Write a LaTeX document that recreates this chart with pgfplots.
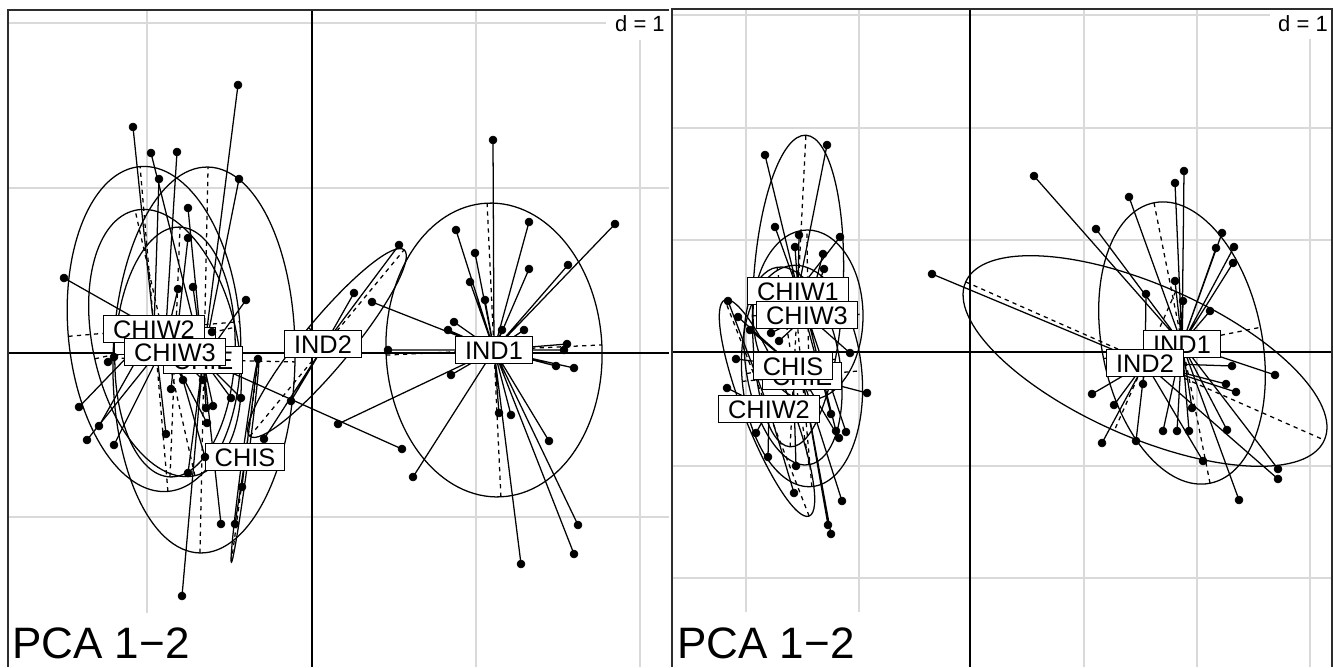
\documentclass[border=0pt]{standalone}
\usepackage{fontspec}
\setmainfont{Liberation Sans}
\usepackage{pgfplots}
\pgfplotsset{compat=1.18}
\definecolor{gridgray}{RGB}{217,217,217}
\definecolor{framegray}{RGB}{45,45,45}
\tikzset{
  lab/.style={draw=black, fill=white, line width=0.9pt, font=\fontsize{19}{19}\selectfont,
    inner xsep=7.2pt, inner ysep=3.6pt, text height=13.6pt, text depth=0pt},
  el/.style={black, line width=0.95pt},
  eld/.style={black, line width=0.95pt, dash pattern=on 3.2pt off 3.2pt},
}
\pgfplotsset{
  gl/.style={gridgray, line width=0.8pt, no marks},
  ax/.style={black, line width=0.85pt, no marks},
  fr/.style={framegray, line width=1.2pt, no marks},
  st/.style={black, line width=0.95pt, no marks, line join=round},
  pt/.style={only marks, mark=*, mark size=3pt, black, mark options={fill=black}},
}
% #1 cx, #2 cy, #3 a, #4 b, #5 angle, #6 cx-a, #7 cx+a, #8 cy-b, #9 cy+b
\newcommand{\grpellipse}[9]{%
  \draw[el, rotate around={#5:(axis cs:#1,#2)}] (axis cs:#1,#2) ellipse [x radius=#3, y radius=#4];
  \draw[eld, rotate around={#5:(axis cs:#1,#2)}] (axis cs:#6,#2) -- (axis cs:#7,#2) (axis cs:#1,#8) -- (axis cs:#1,#9);
}
\begin{document}
\begin{tikzpicture}
\begin{axis}[
  name=main,
  scale only axis, width=999.75pt, height=500.25pt,
  xmin=0, xmax=1333, ymin=0, ymax=667, y dir=reverse,
  hide axis, clip=false,
]
\path (axis cs:0,0) rectangle (axis cs:1333,667);
% ---------------- grids, left panel
\addplot[gl] coordinates {(147,10) (147,667)};
\addplot[gl] coordinates {(476,10) (476,667)};
\addplot[gl] coordinates {(640,10) (640,667)};
\addplot[gl] coordinates {(8,23) (669,23)};
\addplot[gl] coordinates {(8,188) (669,188)};
\addplot[gl] coordinates {(8,517) (669,517)};
% ---------------- grids, right panel
\addplot[gl] coordinates {(746,9) (746,667)};
\addplot[gl] coordinates {(859,9) (859,667)};
\addplot[gl] coordinates {(1084,9) (1084,667)};
\addplot[gl] coordinates {(1197,9) (1197,667)};
\addplot[gl] coordinates {(1310,9) (1310,667)};
\addplot[gl] coordinates {(672,15) (1332,15)};
\addplot[gl] coordinates {(672,128) (1332,128)};
\addplot[gl] coordinates {(672,240) (1332,240)};
\addplot[gl] coordinates {(672,466) (1332,466)};
\addplot[gl] coordinates {(672,578) (1332,578)};
% ---------------- axes through origin
\addplot[ax] coordinates {(312,10) (312,667)};
\addplot[ax] coordinates {(8,353) (669,353)};
\addplot[ax] coordinates {(970,9) (970,667)};
\addplot[ax] coordinates {(672,352) (1332,352)};
% ---------------- frames
\addplot[fr] coordinates {(8,667) (8,10) (669,10)};
\addplot[fr] coordinates {(672,667) (672,9) (1332,9) (1332,667)};

% ================= LEFT PANEL =================
\grpellipse{204}{360}{193}{91}{88.8}{11}{397}{269}{451}
\grpellipse{154}{329}{163}{86}{94.9}{-9}{317}{243}{415}
\grpellipse{165}{343}{136}{72}{102.7}{29}{301}{271}{415}
\grpellipse{175}{352}{125}{60}{87.7}{50}{300}{292}{412}
\grpellipse{245}{460}{103}{3}{82.4}{142}{348}{457}{463}
\grpellipse{327}{343}{121}{24}{50.4}{206}{448}{319}{367}
\grpellipse{494}{350}{147}{108}{92.7}{347}{641}{242}{458}

% CHIE
\addplot[st] coordinates {(203,360)(238,85)(203,360)(151,153)(203,360)(239,179)(203,360)(188,208)(203,360)(246,300)(203,360)(193,287)(203,360)(402,449)(203,360)(241,398)(203,360)(206,408)(203,360)(213,406)(203,360)(231,398)(203,360)(188,473)(203,360)(221,524)(203,360)(182,596)};
\addplot[pt] coordinates {(238,85)(151,153)(239,179)(188,208)(246,300)(193,287)(402,449)(241,398)(206,408)(213,406)(231,398)(188,473)(221,524)(182,596)};
% CHIW2
\addplot[st] coordinates {(154,329)(133,127)(154,329)(159,179)(154,329)(64,278)(154,329)(79,407)(154,329)(99,426)(154,329)(108,362)(154,329)(114,357)(154,329)(166,434)};
\addplot[pt] coordinates {(133,127)(159,179)(64,278)(79,407)(99,426)(108,362)(114,357)(166,434)};
% CHIW1
\addplot[st] coordinates {(165,343)(177,152)(165,343)(178,289)(165,343)(87,440)(165,343)(114,445)(165,343)(183,380)(165,343)(207,423)};
\addplot[pt] coordinates {(177,152)(178,289)(87,440)(114,445)(183,380)(207,423)};
% CHIW3
\addplot[st] coordinates {(175,352)(188,238)(175,352)(171,389)(175,352)(203,380)(175,352)(205,457)(175,352)(212,332)};
\addplot[pt] coordinates {(188,238)(171,389)(203,380)(205,457)(212,332)};
% CHIS
\addplot[st] coordinates {(245,460)(258,359)(245,460)(242,487)(245,460)(235,524)};
\addplot[pt] coordinates {(258,359)(242,487)(235,524)};
% IND2
\addplot[st] coordinates {(325,344)(399,245)(325,344)(354,293)(325,344)(291,401)(325,344)(264,439)};
\addplot[pt] coordinates {(399,245)(354,293)(291,401)(264,439)};
% IND1
\addplot[st] coordinates {(494,350)(493,140)(494,350)(456,230)(494,350)(475,253)(494,350)(470,282)(494,350)(485,300)(494,350)(529,222)(494,350)(529,269)(494,350)(615,224)(494,350)(568,265)(494,350)(372,302)(494,350)(454,322)(494,350)(448,330)(494,350)(502,330)(494,350)(524,330)(494,350)(388,350)(494,350)(567,344)(494,350)(564,350)(494,350)(556,366)(494,350)(574,368)(494,350)(451,375)(494,350)(499,413)(494,350)(511,415)(494,350)(549,441)(494,350)(338,424)(494,350)(413,477)(494,350)(521,564)(494,350)(578,525)(494,350)(574,554)};
\addplot[pt] coordinates {(493,140)(456,230)(475,253)(470,282)(485,300)(529,222)(529,269)(615,224)(568,265)(372,302)(454,322)(448,330)(502,330)(524,330)(388,350)(567,344)(564,350)(556,366)(574,368)(451,375)(499,413)(511,415)(549,441)(338,424)(413,477)(521,564)(578,525)(574,554)};

% labels, left (drawn in level order)
\node[lab] at (axis cs:203,360) {CHIE};
\node[lab] at (axis cs:245,457) {CHIS};
\node[lab] at (axis cs:165,341) {CHIW1};
\node[lab] at (axis cs:154,329) {CHIW2};
\node[lab] at (axis cs:175,352) {CHIW3};
\node[lab] at (axis cs:494,350) {IND1};
\node[lab] at (axis cs:323,344) {IND2};

% ================= RIGHT PANEL =================
\grpellipse{798}{291}{156}{45}{87.1}{642}{954}{246}{336}
\grpellipse{808}{315}{85}{55}{90.7}{723}{893}{260}{370}
\grpellipse{793}{366}{100}{47}{99.2}{693}{893}{319}{413}
\grpellipse{802}{376}{111}{60}{95.1}{691}{913}{316}{436}
\grpellipse{767}{408}{116}{24}{111.3}{651}{883}{384}{432}
\grpellipse{1182}{343}{143}{80}{101.3}{1039}{1325}{263}{423}
\grpellipse{1145}{361}{196}{76}{-23.8}{949}{1341}{285}{437}

% CHIW1
\addplot[st] coordinates {(798,291)(765,155)(798,291)(827,145)(798,291)(775,227)(798,291)(799,235)(798,291)(795,247)(798,291)(840,237)(798,291)(831,414)};
\addplot[pt] coordinates {(765,155)(827,145)(775,227)(799,235)(795,247)(840,237)(831,414)};
% CHIW3
\addplot[st] coordinates {(807,315)(823,254)(807,315)(824,269)(807,315)(850,353)(807,315)(779,341)(807,315)(836,431)(807,315)(846,432)(807,315)(771,333)};
\addplot[pt] coordinates {(823,254)(824,269)(850,353)(779,341)(836,431)(846,432)(771,333)};
% CHIS
\addplot[st] coordinates {(793,366)(750,330)(793,366)(738,317)(793,366)(736,359)(793,366)(796,466)};
\addplot[pt] coordinates {(750,330)(738,317)(736,359)(796,466)};
% CHIE
\addplot[st] coordinates {(802,376)(867,393)(802,376)(839,438)(802,376)(842,501)(802,376)(831,534)(802,376)(828,525)};
\addplot[pt] coordinates {(867,393)(839,438)(842,501)(831,534)(828,525)};
% CHIW2
\addplot[st] coordinates {(769,409)(728,301)(769,409)(727,388)(769,409)(756,433)(769,409)(768,457)(769,409)(794,493)};
\addplot[pt] coordinates {(728,301)(727,388)(756,433)(768,457)(794,493)};
% IND1
\addplot[st] coordinates {(1182,344)(1034,176)(1182,344)(1184,171)(1182,344)(1175,183)(1182,344)(1129,197)(1182,344)(1096,229)(1182,344)(1222,233)(1182,344)(1216,248)(1182,344)(1234,247)(1182,344)(1233,263)(1182,344)(1175,281)(1182,344)(1183,301)(1182,344)(1210,311)(1182,344)(1275,375)(1182,344)(1163,431)(1182,344)(1177,431)(1182,344)(1189,431)(1182,344)(1192,408)(1182,344)(1227,430)(1182,344)(1278,469)(1182,344)(1239,500)};
\addplot[pt] coordinates {(1034,176)(1184,171)(1175,183)(1129,197)(1096,229)(1222,233)(1216,248)(1234,247)(1233,263)(1175,281)(1183,301)(1210,311)(1275,375)(1163,431)(1177,431)(1189,431)(1192,408)(1227,430)(1278,469)(1239,500)};
% IND2
\addplot[st] coordinates {(1145,363)(932,274)(1145,363)(1092,394)(1145,363)(1102,443)(1145,363)(1114,405)(1145,363)(1136,441)(1145,363)(1143,384)(1145,363)(1146,294)(1145,363)(1278,479)(1145,363)(1226,384)(1145,363)(1236,392)(1145,363)(1203,461)(1145,363)(1232,366)};
\addplot[pt] coordinates {(932,274)(1092,394)(1102,443)(1114,405)(1136,441)(1143,384)(1146,294)(1278,479)(1226,384)(1236,392)(1203,461)(1232,366)};

% labels, right
\node[lab] at (axis cs:802,376) {CHIE};
\node[lab] at (axis cs:793,366) {CHIS};
\node[lab] at (axis cs:798,291) {CHIW1};
\node[lab] at (axis cs:769,409) {CHIW2};
\node[lab] at (axis cs:807,315) {CHIW3};
\node[lab] at (axis cs:1182,344) {IND1};
\node[lab] at (axis cs:1145,363) {IND2};

% ================= annotations =================
\fill[white] (axis cs:606,10.8) rectangle (axis cs:668.5,40);
\fill[white] (axis cs:1270,9.8) rectangle (axis cs:1331.2,39);
\fill[white] (axis cs:8.8,613) rectangle (axis cs:200,667);
\fill[white] (axis cs:672.8,612) rectangle (axis cs:862,667);
\node[anchor=base east, inner sep=0pt, font=\fontsize{16.5}{16.5}\selectfont] at (axis cs:665,32) {d = 1};
\node[anchor=base east, inner sep=0pt, font=\fontsize{16.5}{16.5}\selectfont] at (axis cs:1328,32) {d = 1};
\node[anchor=base west, inner sep=0pt, font=\fontsize{33}{33}\selectfont] at (axis cs:12,658) {PCA 1−2};
\node[anchor=base west, inner sep=0pt, font=\fontsize{33}{33}\selectfont] at (axis cs:677,658) {PCA 1−2};
\end{axis}
\pgfresetboundingbox
\path[use as bounding box] (main.south west) rectangle (main.north east);
\end{tikzpicture}
\end{document}
